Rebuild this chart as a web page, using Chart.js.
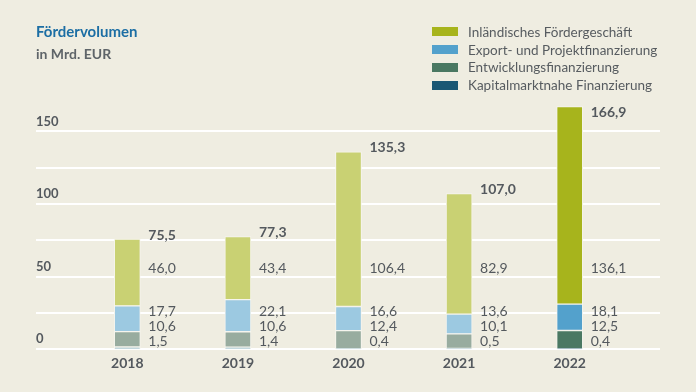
<!DOCTYPE html>
<html>
<head>
<meta charset="utf-8">
<script src="https://cdn.jsdelivr.net/npm/chart.js@4"></script>
<style>
html, body { margin: 0; padding: 0; background: #efede1; }
#wrap { position: relative; width: 696px; height: 392px; font-family: Lato, sans-serif; }
#title { position: absolute; left: 36px; top: 22px; font-weight: 700; font-size: 15px; color: #1c6ea4; }
#unit { position: absolute; left: 36px; top: 45px; font-weight: 700; font-size: 14px; color: #5f6569; }
#legend { position: absolute; left: 432px; top: 23px; }
.item { display: flex; align-items: center; height: 17.8px; font-size: 13.5px; color: #575c60; }
.box { width: 26px; height: 9px; margin-right: 10px; }
canvas { position: absolute; left: 0; top: 0; }
</style>
</head>
<body>
<div id="wrap">
  <canvas id="chart" width="696" height="392"></canvas>
  <div id="title">Fördervolumen</div>
  <div id="unit">in Mrd. EUR</div>
  <div id="legend"></div>
</div>
<script>
// values in Mrd. EUR
const years = ['2018', '2019', '2020', '2021', '2022'];
const inland = [46.0, 43.4, 106.4, 82.9, 136.1];
const exportFin = [17.7, 22.1, 16.6, 13.6, 18.1];
const entwicklung = [10.6, 10.6, 12.4, 10.1, 12.5];
const kapital = [1.5, 1.4, 0.4, 0.5, 0.4];
const totals = [75.5, 77.3, 135.3, 107.0, 166.9];
const yLabels = [0, 50, 100, 150];

const names = ['Inländisches Fördergeschäft', 'Export- und Projektfinanzierung',
  'Entwicklungsfinanzierung', 'Kapitalmarktnahe Finanzierung'];
const fullColors = ['#a7b41c', '#53a1cc', '#4a7862', '#1a5774'];
const fadedColors = ['#c9d173', '#9cc9e1', '#98ac9f', '#8cb6c8'];
const textColor = '#54595e';

// legend
const legend = document.getElementById('legend');
names.forEach(function (n, i) {
  const row = document.createElement('div');
  row.className = 'item';
  row.innerHTML = '<span class="box" style="background:' + fullColors[i] + '"></span>' + n;
  legend.appendChild(row);
});

function colorsFor(k) {
  return years.map(function (y, i) { return i == years.length - 1 ? fullColors[k] : fadedColors[k]; });
}

function fmt(v) { return v.toFixed(1).replace('.', ','); }

// white grid lines, a bit wider than the bar area
const gridLinesPlugin = {
  id: 'gridLines',
  beforeDatasetsDraw: function (chart) {
    const y = chart.scales.y, ctx = chart.ctx;
    ctx.save();
    ctx.strokeStyle = '#ffffff';
    ctx.lineWidth = 2;
    for (let v = 0; v <= 150; v += 25) {
      const py = Math.round(y.getPixelForValue(v));
      ctx.beginPath();
      ctx.moveTo(36, py);
      ctx.lineTo(660, py);
      ctx.stroke();
    }
    ctx.restore();
  }
};

const labelPlugin = {
  id: 'barLabels',
  afterDatasetsDraw: function (chart) {
    const ctx = chart.ctx, y = chart.scales.y;
    const base = y.getPixelForValue(0);
    const top = chart.getDatasetMeta(3);
    ctx.save();
    ctx.fillStyle = textColor;
    ctx.textAlign = 'left';
    ctx.textBaseline = 'middle';
    years.forEach(function (yr, i) {
      const bar = top.data[i];
      const x = bar.x + bar.width / 2 + 8;
      ctx.font = 'bold 14px Lato';
      ctx.fillText(fmt(totals[i]), x, Math.max(bar.y - 4, 112));
      ctx.font = '14px Lato';
      ctx.fillText(fmt(inland[i]), x, base - 81);
      ctx.fillText(fmt(exportFin[i]), x, base - 38);
      ctx.fillText(fmt(entwicklung[i]), x, base - 23);
      ctx.fillText(fmt(kapital[i]), x, base - 8);
    });
    ctx.restore();
  }
};

function ds(label, data, k) {
  return {
    label: label,
    data: data,
    backgroundColor: colorsFor(k),
    borderColor: '#f6f5ee',
    borderWidth: 1,
    borderSkipped: false,
    barThickness: 26
  };
}

new Chart(document.getElementById('chart'), {
  type: 'bar',
  data: {
    labels: years,
    datasets: [
      ds(names[3], kapital, 3),
      ds(names[2], entwicklung, 2),
      ds(names[1], exportFin, 1),
      ds(names[0], inland, 0)
    ]
  },
  options: {
    responsive: false,
    animation: false,
    layout: { padding: { left: 36, right: 71, top: 95, bottom: 14 } },
    plugins: { legend: { display: false }, tooltip: { enabled: false } },
    scales: {
      x: {
        stacked: true,
        grid: { display: false, drawTicks: false },
        border: { display: false },
        ticks: { color: textColor, font: { family: 'Lato', size: 14, weight: 'bold' }, padding: 6 }
      },
      y: {
        stacked: true,
        min: 0,
        max: 175,
        grid: { display: false },
        border: { display: false },
        afterFit: function (s) { s.width = 36; },
        ticks: {
          stepSize: 25,
          crossAlign: 'far',
          labelOffset: -10,
          padding: 0,
          color: textColor,
          font: { family: 'Lato', size: 13, weight: 'bold' },
          callback: function (v) { return yLabels.includes(v) ? String(v) : ''; }
        }
      }
    }
  },
  plugins: [gridLinesPlugin, labelPlugin]
});
</script>
</body>
</html>
